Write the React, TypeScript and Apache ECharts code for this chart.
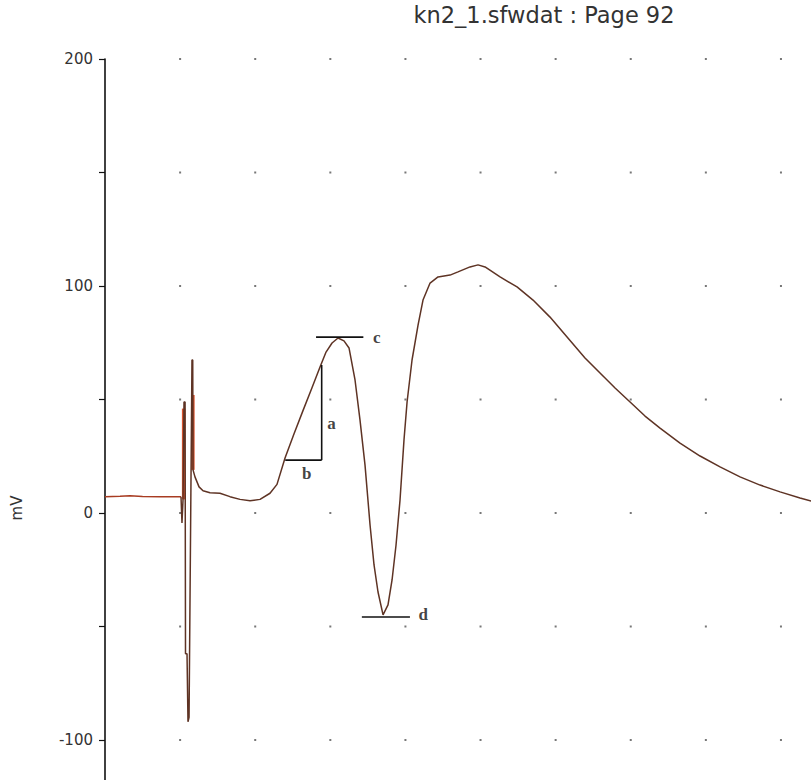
import React, { useEffect, useRef } from "react";
import * as echarts from "echarts";

// ---- data (time in grid units, voltage in mV) ----
const titleText = "kn2_1.sfwdat : Page 92";
const yAxisName = "mV";
const yLabelValues = [200, 100, 0, -100];

const xTicks = [1, 2, 3, 4, 5, 6, 7, 8, 9];
const yTicks = [-100, -50, 0, 50, 100, 150, 200];

const preStimulus: number[][] = [
  [0, 7.2], [0.2, 7.4], [0.333, 7.6], [0.5, 7.3], [0.732, 7.2], [0.9, 7.2], [1.012, 7.2],
];

const response: number[][] = [
  [1.012, 7.2], [1.025, -4.4], [1.039, 6], [1.052, 48.9], [1.066, 48.9], [1.072, -62],
  [1.092, -62], [1.105, -92], [1.119, -90], [1.158, 67.4], [1.168, 67.4], [1.172, 19],
  [1.198, 15.9], [1.252, 11.5], [1.305, 9.8], [1.398, 8.9], [1.531, 8.7], [1.664, 7.2],
  [1.798, 6.0], [1.931, 5.4], [2.064, 6.0], [2.197, 8.7], [2.29, 12.6], [2.397, 24.2],
  [2.517, 34.9], [2.636, 45.1], [2.756, 55.2], [2.863, 64.3], [2.943, 70.9], [3.023, 74.9],
  [3.103, 77.1], [3.182, 75.8], [3.249, 72.7], [3.329, 58.6], [3.395, 41.0], [3.462, 21.1],
  [3.529, -5.3], [3.582, -22.9], [3.635, -34.8], [3.702, -44.9], [3.768, -40.5],
  [3.822, -29.5], [3.875, -14.1], [3.928, 5.7], [3.981, 32.2], [4.022, 48.9], [4.088, 67.4],
  [4.168, 82.8], [4.234, 93.8], [4.328, 101.3], [4.434, 104.0], [4.594, 104.8], [4.7, 106.2],
  [4.86, 108.4], [4.967, 109.3], [5.06, 108.4], [5.26, 104.0], [5.486, 99.6], [5.699, 93.8],
  [5.925, 86.3], [6.152, 77.5], [6.391, 68.3], [6.591, 61.7], [6.791, 55.1], [6.991, 48.9],
  [7.19, 42.7], [7.39, 37.4], [7.656, 30.8], [7.923, 25.1], [8.189, 20.3], [8.455, 15.9],
  [8.722, 12.3], [8.988, 9.3], [9.254, 6.6], [9.401, 5.3],
];

const redSpike1: number[][] = [[1.047, 6], [1.047, 46]];
const redSpike2: number[][] = [[1.17, 19], [1.17, 52]];

const lineC: number[][] = [[2.81, 77.5], [3.44, 77.5]];
const lineA: number[][] = [[2.885, 65.2], [2.885, 23.3]];
const lineB: number[][] = [[2.4, 23.3], [2.885, 23.3]];
const lineD: number[][] = [[3.42, -45.8], [4.06, -45.8]];

const letterNames = ["c", "a", "b", "d"];
const letterPositions: number[][] = [[3.618, 77.5], [3.017, 39.6], [2.685, 17.2], [4.238, -44.5]];

const X_MAX = 9.4;
const Y_MIN = -150;
const Y_MAX = 200;

export default function App() {
  const ref = useRef<HTMLDivElement>(null);

  useEffect(() => {
    if (!ref.current) return;
    const chart = echarts.init(ref.current, null, { renderer: "svg" });

    const gridDots = xTicks.flatMap((x) => yTicks.map((y) => [x, y]));
    const annotationLine = (name: string, data: number[][]) => ({
      name,
      type: "line",
      data,
      showSymbol: false,
      symbol: "none",
      lineStyle: { color: "#111", width: 1.6 },
      z: 5,
      silent: true,
    });

    chart.setOption({
      animation: false,
      backgroundColor: "#ffffff",
      grid: { left: 105, right: 0, top: 59, bottom: 16.5, containLabel: false },
      xAxis: {
        type: "value",
        min: 0,
        max: X_MAX,
        show: false,
      },
      yAxis: {
        type: "value",
        min: Y_MIN,
        max: Y_MAX,
        interval: 50,
        axisLine: { show: true, lineStyle: { color: "#111", width: 1.6 } },
        axisTick: { show: true, inside: false, length: 6, lineStyle: { color: "#111", width: 1.2 } },
        axisLabel: {
          margin: 12,
          fontFamily: "DejaVu Sans",
          fontSize: 15,
          color: "#333",
          formatter: (v: number) => (yLabelValues.includes(v) ? String(v) : ""),
        },
        splitLine: { show: false },
      },
      graphic: [
        {
          type: "text",
          x: 544,
          y: 15,
          style: {
            text: titleText,
            fontFamily: "DejaVu Sans",
            fontSize: 22.5,
            fill: "#333",
            align: "center",
            verticalAlign: "middle",
          },
        },
        {
          type: "text",
          x: 17,
          y: 508,
          rotation: Math.PI / 2,
          style: {
            text: yAxisName,
            fontFamily: "DejaVu Sans",
            fontSize: 15,
            fill: "#333",
            align: "center",
            verticalAlign: "middle",
          },
        },
      ],
      series: [
        {
          name: "grid dots",
          type: "scatter",
          data: gridDots,
          symbol: "rect",
          symbolSize: 2,
          itemStyle: { color: "#555" },
          silent: true,
          z: 1,
        },
        {
          name: "red spike 1",
          type: "line",
          data: redSpike1,
          symbol: "none",
          lineStyle: { color: "#d9532e", width: 3.5 },
          z: 2,
          silent: true,
        },
        {
          name: "red spike 2",
          type: "line",
          data: redSpike2,
          symbol: "none",
          lineStyle: { color: "#d9532e", width: 3.5 },
          z: 2,
          silent: true,
        },
        {
          name: "pre",
          type: "line",
          data: preStimulus,
          symbol: "none",
          lineStyle: { color: "#a83c22", width: 1.5 },
          z: 3,
          silent: true,
        },
        {
          name: "response",
          type: "line",
          data: response,
          symbol: "none",
          lineStyle: { color: "#5e3324", width: 1.5 },
          z: 3,
          silent: true,
        },
        annotationLine("c line", lineC),
        annotationLine("a line", lineA),
        annotationLine("b line", lineB),
        annotationLine("d line", lineD),
        {
          name: "letters",
          type: "scatter",
          data: letterNames.map((n, i) => ({ name: n, value: letterPositions[i] })),
          symbolSize: 1,
          itemStyle: { color: "rgba(0,0,0,0)" },
          label: {
            show: true,
            position: "inside",
            formatter: (p: any) => p.name,
            fontFamily: "Liberation Serif",
            fontWeight: "bold",
            fontSize: 17,
            color: "#111",
          },
          z: 6,
          silent: true,
        },
      ],
    });

    return () => chart.dispose();
  }, []);

  return (
    <div
      style={{
        position: "fixed",
        left: 0,
        top: 0,
        width: 811,
        height: 780,
        overflow: "hidden",
        background: "#fff",
      }}
    >
      <div ref={ref} style={{ width: 811, height: 870 }} />
    </div>
  );
}
